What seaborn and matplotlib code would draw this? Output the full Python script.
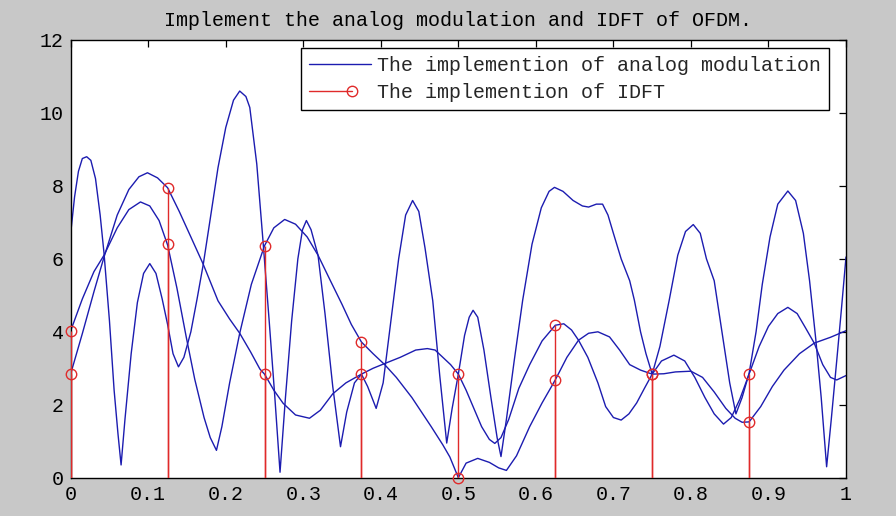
import numpy as np
import pandas as pd
import matplotlib
matplotlib.use("Agg")
import matplotlib.pyplot as plt
import seaborn as sns
from matplotlib.lines import Line2D
from matplotlib.legend_handler import HandlerLine2D

# ---------------- data ----------------
title = "Implement the analog modulation and IDFT of OFDM."
legend_labels = ["The implemention of analog modulation", "The implemention of IDFT"]

# curve A (fast-varying envelope)
a_t = [0.000, 0.005, 0.010, 0.015, 0.0206, 0.026, 0.032, 0.038, 0.043, 0.050, 0.056, 0.061, 0.065,
       0.070, 0.078, 0.086, 0.094, 0.102, 0.110, 0.118, 0.125, 0.132, 0.139, 0.146, 0.155, 0.163,
       0.171, 0.180, 0.190, 0.200, 0.210, 0.218, 0.226, 0.231, 0.240, 0.248, 0.256, 0.263, 0.270,
       0.277, 0.285, 0.293, 0.299, 0.304, 0.310, 0.319, 0.328, 0.338, 0.348, 0.356, 0.366, 0.375,
       0.383, 0.394, 0.403, 0.413, 0.423, 0.432, 0.441, 0.449, 0.457, 0.467, 0.476, 0.485, 0.492,
       0.500, 0.508, 0.514, 0.519, 0.525, 0.533, 0.542, 0.550, 0.555, 0.562, 0.572, 0.583, 0.595,
       0.607, 0.617, 0.624, 0.635, 0.648, 0.660, 0.668, 0.678, 0.686, 0.693, 0.700, 0.710, 0.721,
       0.727, 0.735, 0.742, 0.750, 0.760, 0.772, 0.783, 0.793, 0.803, 0.812, 0.820, 0.830, 0.840,
       0.850, 0.858, 0.866, 0.875, 0.884, 0.892, 0.902, 0.912, 0.925, 0.935, 0.945, 0.953, 0.961,
       0.968, 0.975, 0.981, 0.988, 0.994, 1.000]
a_v = [6.70, 7.70, 8.40, 8.75, 8.80, 8.70, 8.20, 7.20, 6.15, 4.30, 2.40, 1.20, 0.35,
       1.60, 3.40, 4.80, 5.60, 5.87, 5.60, 4.90, 4.20, 3.40, 3.04, 3.30, 4.00, 4.90,
       5.85, 7.10, 8.50, 9.60, 10.35, 10.60, 10.45, 10.15, 8.60, 6.50, 4.30, 2.30, 0.15,
       2.20, 4.30, 6.00, 6.80, 7.05, 6.80, 6.10, 4.50, 2.50, 0.85, 1.80, 2.60, 2.84,
       2.50, 1.90, 2.60, 4.30, 6.00, 7.20, 7.60, 7.30, 6.30, 4.85, 2.80, 0.95, 1.90,
       2.84, 3.90, 4.40, 4.59, 4.40, 3.50, 2.20, 1.10, 0.58, 1.60, 3.20, 4.87, 6.40,
       7.40, 7.85, 7.96, 7.85, 7.60, 7.45, 7.42, 7.50, 7.50, 7.20, 6.70, 6.00, 5.40,
       4.87, 4.00, 3.40, 2.84, 3.60, 4.87, 6.10, 6.75, 6.94, 6.70, 6.00, 5.40, 4.00,
       2.60, 1.75, 2.20, 2.86, 4.00, 5.30, 6.60, 7.50, 7.86, 7.60, 6.70, 5.40, 3.80,
       2.20, 0.30, 1.60, 3.20, 4.60, 6.05]

# curve C1 (first IDFT symbol)
c1_t = [0.000, 0.015, 0.030, 0.043, 0.060, 0.075, 0.088, 0.099, 0.112, 0.125, 0.140, 0.155, 0.171,
        0.190, 0.205, 0.218, 0.232, 0.244, 0.250, 0.262, 0.274, 0.290, 0.308, 0.322, 0.338, 0.355,
        0.375, 0.390, 0.405, 0.425, 0.445, 0.460, 0.470, 0.480, 0.490, 0.500, 0.510, 0.520, 0.530,
        0.540, 0.547, 0.555, 0.565, 0.578, 0.592, 0.608, 0.625, 0.636, 0.646, 0.655, 0.667, 0.680,
        0.690, 0.700, 0.710, 0.720, 0.730, 0.740, 0.750, 0.762, 0.778, 0.792, 0.805, 0.818, 0.830,
        0.842, 0.852, 0.863, 0.875, 0.888, 0.900, 0.912, 0.925, 0.937, 0.948, 0.959, 0.970, 0.980,
        0.988, 1.000]
c1_v = [2.85, 3.95, 5.10, 6.05, 7.20, 7.90, 8.25, 8.36, 8.22, 7.95, 7.30, 6.60, 5.85,
        4.85, 4.35, 3.96, 3.45, 2.98, 2.84, 2.40, 2.04, 1.72, 1.63, 1.85, 2.30, 2.60,
        2.84, 3.00, 3.13, 3.30, 3.50, 3.54, 3.50, 3.30, 3.10, 2.84, 2.40, 1.90, 1.40,
        1.05, 0.94, 1.10, 1.60, 2.45, 3.10, 3.75, 4.18, 4.22, 4.05, 3.77, 3.30, 2.60,
        1.95, 1.65, 1.58, 1.75, 2.05, 2.45, 2.84, 3.20, 3.36, 3.20, 2.75, 2.20, 1.75,
        1.47, 1.65, 2.15, 2.84, 3.60, 4.15, 4.50, 4.67, 4.50, 4.10, 3.69, 3.10, 2.75,
        2.68, 2.80]

# curve C2 (second IDFT symbol)
c2_t = [0.000, 0.015, 0.030, 0.043, 0.060, 0.075, 0.090, 0.102, 0.114, 0.125, 0.137, 0.149, 0.160,
        0.172, 0.180, 0.188, 0.195, 0.205, 0.218, 0.233, 0.250, 0.262, 0.276, 0.290, 0.305, 0.319,
        0.335, 0.350, 0.362, 0.375, 0.390, 0.405, 0.420, 0.440, 0.465, 0.480, 0.489, 0.500, 0.510,
        0.525, 0.540, 0.552, 0.562, 0.575, 0.592, 0.608, 0.625, 0.640, 0.655, 0.668, 0.680, 0.695,
        0.708, 0.721, 0.735, 0.750, 0.765, 0.780, 0.800, 0.815, 0.830, 0.845, 0.857, 0.866, 0.875,
        0.890, 0.905, 0.920, 0.940, 0.959, 0.980, 1.000]
c2_v = [4.03, 4.90, 5.65, 6.10, 6.85, 7.35, 7.56, 7.45, 7.05, 6.38, 5.20, 3.86, 2.70,
        1.65, 1.10, 0.75, 1.40, 2.60, 3.96, 5.30, 6.36, 6.85, 7.08, 6.95, 6.60, 6.10,
        5.40, 4.75, 4.20, 3.72, 3.40, 3.10, 2.75, 2.20, 1.40, 0.90, 0.57, 0.00, 0.40,
        0.53, 0.42, 0.27, 0.20, 0.60, 1.40, 2.05, 2.68, 3.30, 3.77, 3.96, 4.00, 3.86,
        3.50, 3.10, 2.95, 2.84, 2.85, 2.90, 2.92, 2.75, 2.35, 1.90, 1.63, 1.52, 1.53,
        1.95, 2.50, 2.95, 3.40, 3.69, 3.85, 4.03]

# IDFT samples (stems)
stem_t = [0.0, 0.125, 0.25, 0.375, 0.5, 0.625, 0.75, 0.875]
idft1 = [2.83, 7.95, 2.83, 2.83, 2.83, 4.18, 2.83, 2.83]
idft2 = [4.02, 6.40, 6.36, 3.72, 0.00, 2.68, 2.83, 1.53]

x_ticks = [0, 0.1, 0.2, 0.3, 0.4, 0.5, 0.6, 0.7, 0.8, 0.9, 1]
x_tick_labels = ["0", "0.1", "0.2", "0.3", "0.4", "0.5", "0.6", "0.7", "0.8", "0.9", "1"]
y_ticks = [0, 2, 4, 6, 8, 10, 12]
y_tick_labels = ["0", "2", "4", "6", "8", "10", "12"]

# ---------------- styling ----------------
BLUE = "#1c1cb0"
RED = "#e02a2a"
FIG_BG = "#c8c8c8"
FS = 14.4

sns.set_theme(style="white")
plt.rcParams["font.family"] = ["Liberation Mono", "DejaVu Sans Mono"]

df = pd.concat([
    pd.DataFrame({"t": a_t, "amp": a_v, "curve": "A"}),
    pd.DataFrame({"t": c1_t, "amp": c1_v, "curve": "C1"}),
    pd.DataFrame({"t": c2_t, "amp": c2_v, "curve": "C2"}),
], ignore_index=True)

fig = plt.figure(figsize=(8.96, 5.16), dpi=100, facecolor=FIG_BG)
ax = fig.add_axes([0.0789, 0.0742, 0.8653, 0.8483])
ax.set_facecolor("white")

sns.lineplot(data=df, x="t", y="amp", units="curve", estimator=None, sort=False,
             color=BLUE, linewidth=1.0, ax=ax, legend=False, zorder=2)

sx = np.concatenate([stem_t, stem_t])
sy = np.concatenate([idft1, idft2])
markerline, stemlines, baseline = ax.stem(sx, sy, linefmt="-", markerfmt="o", basefmt=" ")
stemlines.set_color(RED)
stemlines.set_linewidth(1.0)
stemlines.set_zorder(3)
markerline.set_markerfacecolor("none")
markerline.set_markeredgecolor(RED)
markerline.set_markersize(7.5)
markerline.set_markeredgewidth(1.0)
markerline.set_clip_on(False)
markerline.set_zorder(4)
baseline.set_visible(False)

ax.set_xlim(0, 1)
ax.set_ylim(0, 12)
ax.set_xticks(x_ticks)
ax.set_xticklabels(x_tick_labels)
ax.set_yticks(y_ticks)
ax.set_yticklabels(y_tick_labels)
ax.set_xlabel("")
ax.set_ylabel("")
ax.tick_params(direction="in", top=True, right=True, length=5, width=0.9,
               labelsize=FS, pad=5, colors="black")
for s in ax.spines.values():
    s.set_visible(True)
    s.set_color("black")
    s.set_linewidth(1.0)

ax.set_title(title, fontsize=FS, pad=10, color="black")


class EndMarkerHandler(HandlerLine2D):
    def create_artists(self, legend, orig_handle, xdescent, ydescent, width, height,
                       fontsize, trans):
        y = (height - ydescent) / 2.0
        xm = -xdescent + width * 0.70
        line = Line2D([-xdescent, xm], [y, y], color=RED, lw=1.0)
        mk = Line2D([xm], [y], ls="none", marker="o", mfc="none", mec=RED, ms=7.5, mew=1.0)
        line.set_transform(trans)
        mk.set_transform(trans)
        return [line, mk]


h1 = Line2D([], [], color=BLUE, lw=1.0)
h2 = Line2D([], [], color=RED, lw=1.0, marker="o", mfc="none", mec=RED)
leg = ax.legend([h1, h2], legend_labels, handler_map={h2: EndMarkerHandler()},
                loc="upper right", bbox_to_anchor=(0.978, 0.982), borderaxespad=0,
                fancybox=False, edgecolor="black", framealpha=1, facecolor="white",
                fontsize=FS, handlelength=3.1, handletextpad=0.3, borderpad=0.4,
                labelspacing=0.4)
leg.get_frame().set_linewidth(1.0)

fig.savefig("out.png", dpi=100, facecolor=FIG_BG)
